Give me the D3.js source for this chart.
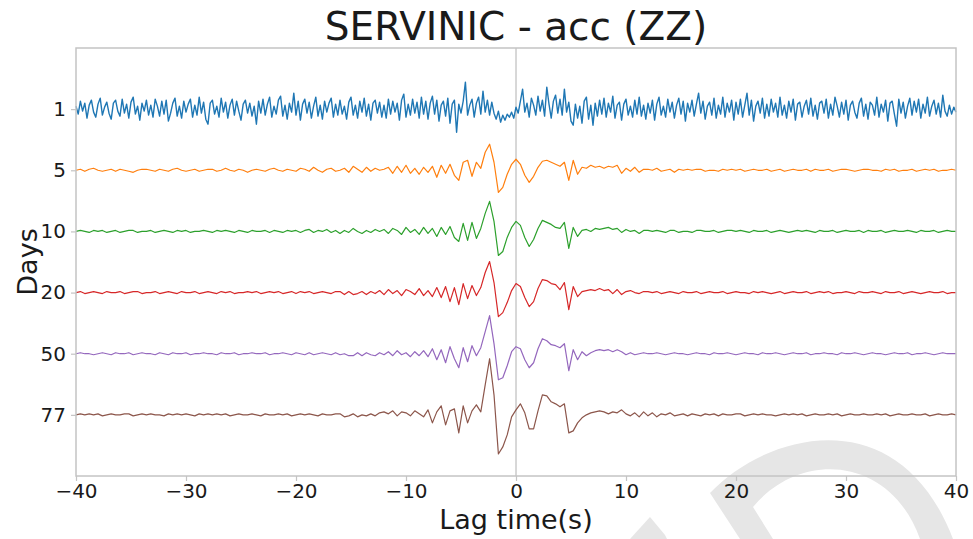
<!DOCTYPE html>
<html>
<head>
<meta charset="utf-8">
<script src="https://cdn.jsdelivr.net/npm/d3@7"></script>
<style>
  body { margin: 0; background: #fff; }
  svg { font-family: 'DejaVu Sans', sans-serif; }
</style>
</head>
<body>
<svg id="chart"></svg>
<script>
// Lag time window (s); every trace is sampled evenly across it
const lagRange = [-40, 40];
const xTicks = [-40, -30, -20, -10, 0, 10, 20, 30, 40];

// Stacking window (days) for each trace, top to bottom
const days = ['1', '5', '10', '20', '50', '77'];
const colors = ['#1f77b4', '#ff7f0e', '#2ca02c', '#d62728', '#9467bd', '#8c564b'];

// Normalised correlation amplitudes
// 1 day: 0.2 s sampling
const trace1 = [
  3,-5,8,-2,6,-9,4,9,-3,-8,5,11,-6,2,7,-4,-10,6,9,-2,
  -7,10,-4,5,-9,7,12,-5,3,-11,6,-2,9,-6,4,-8,10,3,-7,8,
  -5,9,-12,-4,6,11,-7,3,-9,8,-3,5,10,-8,4,-6,12,-4,7,-10,
  -15,6,9,-5,3,-8,11,-3,7,-9,4,10,-6,8,-2,-11,5,9,-4,6,
  -7,3,-15,8,-4,10,-6,5,12,-8,3,-5,9,13,-7,4,-10,6,-3,16,
  -6,8,-11,5,10,-4,7,-9,3,12,-7,4,-10,8,-3,6,11,-8,5,-6,
  9,-5,3,-10,7,12,-6,4,-9,8,-3,11,-7,5,-11,6,9,-4,7,-8,
  4,-9,10,-5,8,-3,6,-11,9,15,-8,5,-6,10,-4,7,-9,12,-5,8,
  -10,6,13,-5,9,-12,4,8,-7,11,-14,5,9,-23,5,-4,8,27,-6,4,
  10,-8,6,12,-5,18,-3,9,-6,7,-4,-10,-2,-13,-6,-11,-5,-8,-3,-9,
  2,-4,8,20,-3,6,-8,11,4,-6,13,-2,9,-7,22,5,-9,8,14,-4,
  10,-6,20,-3,7,-12,-16,5,-9,3,-14,8,12,-10,4,-16,6,-7,9,-5,
  11,-8,6,-3,13,-9,4,7,-11,5,10,-6,3,-8,9,-5,12,-7,4,-10,
  6,-4,9,-11,5,12,-6,3,-8,10,-3,7,-9,4,11,-5,8,-12,6,-3,
  9,-7,5,16,-4,8,-10,3,7,-6,11,-9,4,-5,12,-8,6,-3,9,-11,
  7,-5,10,-8,4,16,-6,9,-12,3,8,-4,11,-9,5,-7,10,-3,6,-8,
  12,-6,4,-9,8,-3,10,-11,5,7,-8,3,9,-5,11,-7,4,-10,6,8,
  -4,10,-9,5,-6,12,3,-8,7,-5,9,-11,4,8,-3,-9,6,11,-7,5,
  -10,7,4,-6,12,-8,5,-3,9,-12,6,8,-5,-17,10,-4,7,-9,3,11,
  -6,8,-3,10,-9,5,-4,12,-7,3,9,-5,6,-8,14,-2,-7,4,-5,2,
  -3
];
// 5 to 77 days: 0.4 s sampling
const trace5 = [
  0,1,-1,1,2,0,-1,0,1,-1, 1,0,-1,-2,0,1,1,0,-1,1,
  0,-1,1,2,0,-1,0,1,-1,0, 1,1,-1,0,2,0,-1,1,0,-2,
  0,1,0,-1,1,2,0,-1,1,0, -1,2,1,-1,3,0,-2,1,2,-1,
  0,2,-2,4,1,-2,3,-1,2,0, 1,3,-3,4,-2,5,-3,2,-4,3,
  -2,4,-7,5,-3,6,-5,-10,8,10, -6,8,2,18,26,8,-22,-17,-4,6,
  11,6,-5,-12,-6,3,9,10,8,6, 4,8,-10,10,-4,3,2,5,3,4,
  2,4,3,5,-3,2,-1,3,-2,1, 1,0,2,-1,0,1,-2,1,0,1,
  0,1,1,-1,0,0,-1,1,0,1, 0,1,-1,0,1,0,0,1,-1,0,
  1,-1,0,1,0,0,1,-1,1,0, 0,1,-1,0,1,1,0,-1,0,1,
  1,0,0,-1,1,0,1,-1,0,0, 1,-1,0,1,0,1,-1,0,0,1,
  0
];
const trace10 = [
  0,1,0,-1,1,0,1,-1,0,1, -1,0,1,1,-1,0,0,1,-1,0,
  1,0,-1,1,0,1,-1,0,0,1, 0,-1,1,0,1,0,-1,1,0,-1,
  1,0,0,1,-1,1,0,-1,1,0, 1,-1,1,2,-1,1,0,2,-1,1,
  -2,1,-1,3,0,-2,1,-1,2,0, 2,-2,3,1,-3,4,-1,2,-3,4,
  -2,3,-5,4,-3,5,-6,-10,8,-9, 9,-7,3,18,30,10,-24,-20,-6,4,
  10,6,-6,-15,-8,3,11,9,7,4, 3,9,-17,4,-5,1,2,0,3,2,
  3,4,2,3,-1,2,0,1,-2,1, 1,0,1,0,-1,1,1,-1,0,0,
  -1,1,1,0,0,1,-1,0,1,1, 0,1,0,-1,1,0,0,1,-1,0,
  1,0,-1,0,1,0,1,0,-1,1, 0,0,1,-1,0,1,0,0,1,-1,
  1,0,0,1,-1,0,1,0,0,1, 0,-1,1,0,0,1,-1,0,1,0,
  0
];
const trace20 = [
  0,1,-1,0,1,0,-1,1,0,0, 1,-1,0,1,1,-1,0,0,1,-1,
  0,1,0,-1,1,0,0,1,-1,0, 1,0,-1,1,0,1,-1,0,0,1,
  0,1,-1,0,1,0,1,-1,0,1, -1,1,0,1,-1,0,1,0,-1,1,
  1,-2,1,-2,-1,1,-2,1,-1,2, -2,3,-1,2,-3,3,1,-2,4,-3,
  2,-4,5,-5,6,-9,5,-12,9,-6, 7,-3,5,20,31,10,-24,-20,-10,2,
  9,6,-5,-14,-9,4,13,12,9,8, 3,10,-17,6,-4,1,2,3,2,4,
  2,3,-1,3,-2,1,2,0,-1,1, 1,0,1,-1,0,1,0,-1,1,0,
  0,1,-1,0,1,0,0,1,-1,0, 1,0,0,-1,1,0,1,0,-1,0,
  1,-1,0,1,0,0,1,-1,0,1, 0,1,-1,0,0,1,0,-1,1,0,
  0,1,0,-1,1,0,0,1,-1,0, 1,0,-1,0,1,0,0,1,-1,0,
  0
];
const trace50 = [
  0,1,0,0,-1,0,1,0,-1,1, 0,0,1,-1,0,1,0,0,-1,1,
  0,-1,1,0,0,1,-1,0,0,1, 0,0,-1,1,0,0,1,-1,0,0,
  1,0,0,1,-1,0,0,1,0,-1, 1,0,-1,1,-1,0,1,0,-1,1,
  -1,0,-2,-2,1,-2,1,-1,-2,1, -1,2,-2,3,-1,1,-3,2,-2,3,
  -3,5,-6,4,-9,7,-5,-14,6,-8, 8,-2,6,22,38,10,-26,-24,-12,2,
  7,5,-6,-14,-9,5,15,13,9,8, 6,10,-17,4,-6,2,-2,1,3,4,
  3,4,2,4,2,-1,1,-1,0,1, 0,0,1,0,-1,0,1,0,0,-1,
  0,1,0,0,-1,1,0,0,1,0, -1,0,1,0,0,-1,1,0,0,1,
  0,-1,0,1,0,0,1,-1,0,0, 1,0,0,-1,1,0,0,1,0,-1,
  0,1,0,0,-1,0,1,0,0,1, -1,0,0,1,0,-1,0,1,0,0,
  0
];
const trace77 = [
  0,1,0,1,0,1,-1,0,1,0, 0,1,1,-1,0,1,0,1,0,0,
  -1,1,0,1,0,1,0,-1,1,0, 1,0,1,0,1,-1,0,1,0,0,
  1,0,-1,1,0,0,1,0,1,-1, 0,1,0,1,0,-1,1,0,0,1,
  1,-2,-1,1,-2,0,-1,1,-1,2, 3,1,4,-1,3,2,-1,4,1,-2,
  5,-8,3,9,-10,4,6,-18,9,-8, 4,10,3,30,56,20,-39,-32,-20,-2,
  5,11,2,-14,-14,4,20,19,13,11, 8,11,-18,-16,-8,-3,0,2,3,4,
  3,1,3,2,5,1,-1,2,-2,3, -1,2,-2,1,0,2,-1,0,1,-1,
  1,0,-1,1,0,1,-1,1,0,0, 1,1,-1,0,1,0,1,0,0,-1,
  0,1,0,1,0,1,-1,0,1,0, 0,1,0,1,-1,0,1,0,0,1,
  0,0,1,0,1,-1,0,1,0,0, 1,0,0,1,-1,0,1,0,0,1,
  0
];
const traces = [trace1, trace5, trace10, trace20, trace50, trace77];

const width = 973;
const height = 539;
const margin = {top: 48, right: 17, bottom: 63, left: 76};
const frameColor = '#c4c4c4';
const textColor = '#1a1a1a';

const svg = d3.select('#chart')
  .attr('width', width)
  .attr('height', height);

// Faint watermark in the lower right corner, behind everything
svg.append('path')
  .attr('d', 'M740,539 L710,493 C770,430 900,400 953,539 L920,539 C890,455 800,450 753,507 L773,539 Z')
  .attr('fill', '#e6e6e6');
svg.append('path')
  .attr('d', 'M630,539 L650,517 L665,535 L667,539 Z')
  .attr('fill', '#e6e6e6');

const x = d3.scaleLinear()
  .domain(lagRange)
  .range([margin.left, width - margin.right]);

// Trace i sits at offset i, first trace on top
const y = d3.scaleLinear()
  .domain([-1, 6])
  .range([margin.top, height - margin.bottom]);

// One amplitude unit in trace-offset units
const gain = 1 / 61;

// Zero-lag marker
svg.append('line')
  .attr('x1', x(0))
  .attr('x2', x(0))
  .attr('y1', y(-1))
  .attr('y2', y(6))
  .attr('stroke', '#b0b0b0')
  .attr('stroke-width', 1);

traces.forEach((values, i) => {
  const lag = d3.scaleLinear()
    .domain([0, values.length - 1])
    .range(lagRange);
  const line = d3.line()
    .x((_, k) => x(lag(k)))
    .y(v => y(i - v * gain));
  svg.append('path')
    .attr('d', line(values))
    .attr('fill', 'none')
    .attr('stroke', colors[i])
    .attr('stroke-width', i === 0 ? 1.4 : 1.2)
    .attr('stroke-linejoin', 'round');
});

// Frame
svg.append('rect')
  .attr('x', margin.left)
  .attr('y', margin.top)
  .attr('width', width - margin.left - margin.right)
  .attr('height', height - margin.top - margin.bottom)
  .attr('fill', 'none')
  .attr('stroke', frameColor)
  .attr('stroke-width', 1.5);

const xAxis = d3.axisBottom(x)
  .tickValues(xTicks)
  .tickSize(5)
  .tickPadding(3)
  .tickFormat(d => d < 0 ? `\u2212${-d}` : `${d}`);

svg.append('g')
  .attr('transform', `translate(0,${height - margin.bottom})`)
  .call(xAxis)
  .call(g => g.select('.domain').remove())
  .call(g => g.selectAll('.tick line').attr('stroke', frameColor).attr('stroke-width', 1.2))
  .call(g => g.selectAll('.tick text')
    .attr('fill', textColor)
    .style('font-size', '20px')
    .style('font-family', 'DejaVu Sans'));

const yAxis = d3.axisLeft(y)
  .tickValues(d3.range(days.length))
  .tickSize(5)
  .tickPadding(5)
  .tickFormat(i => days[i]);

svg.append('g')
  .attr('transform', `translate(${margin.left},0)`)
  .call(yAxis)
  .call(g => g.select('.domain').remove())
  .call(g => g.selectAll('.tick line').attr('stroke', frameColor).attr('stroke-width', 1.2))
  .call(g => g.selectAll('.tick text')
    .attr('fill', textColor)
    .style('font-size', '20px')
    .style('font-family', 'DejaVu Sans'));

const midX = (margin.left + width - margin.right) / 2;

svg.append('text')
  .attr('x', midX)
  .attr('y', 40)
  .attr('text-anchor', 'middle')
  .attr('fill', textColor)
  .style('font-size', '39px')
  .text('SERVINIC - acc (ZZ)');

svg.append('text')
  .attr('x', midX)
  .attr('y', 529)
  .attr('text-anchor', 'middle')
  .attr('fill', textColor)
  .style('font-size', '27px')
  .text('Lag time(s)');

svg.append('text')
  .attr('transform', `translate(37,${y(2.5)}) rotate(-90)`)
  .attr('text-anchor', 'middle')
  .attr('fill', textColor)
  .style('font-size', '27px')
  .text('Days');
</script>
</body>
</html>
